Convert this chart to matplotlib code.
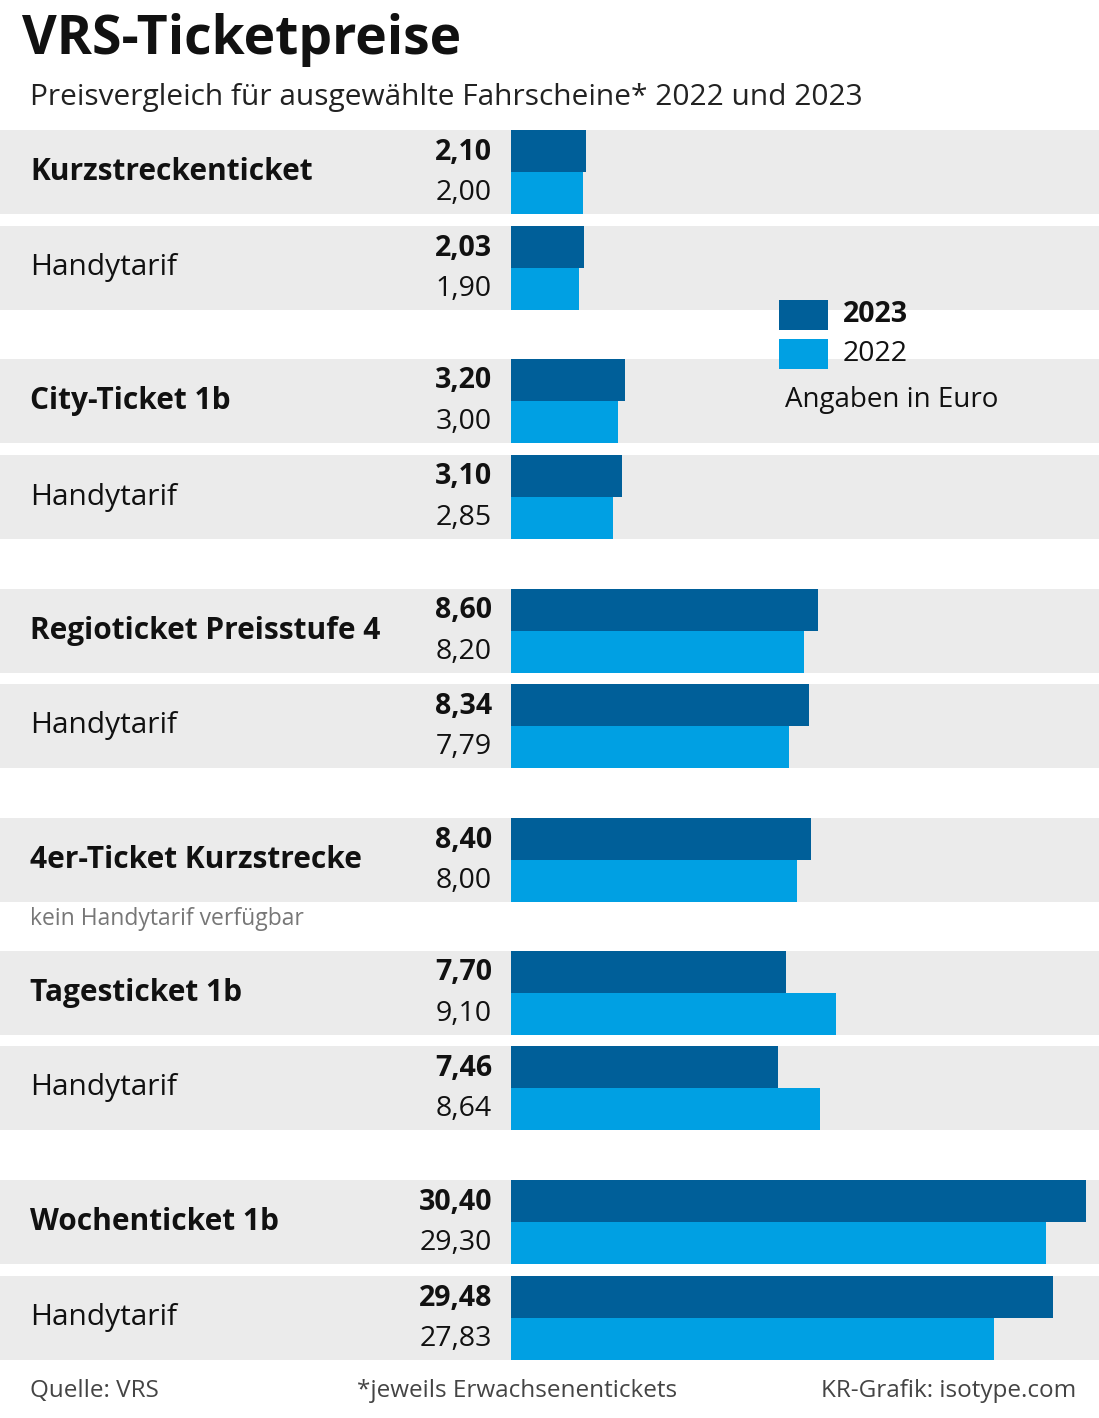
import matplotlib
matplotlib.use("Agg")
import matplotlib.pyplot as plt

plt.rcParams['font.family'] = ['Open Sans', 'DejaVu Sans']

labels = ["Kurzstreckenticket", "Handytarif", "City-Ticket 1b", "Handytarif",
          "Regioticket Preisstufe 4", "Handytarif", "4er-Ticket Kurzstrecke",
          "Tagesticket 1b", "Handytarif", "Wochenticket 1b", "Handytarif"]
bold = [True, False, True, False, True, False, True, True, False, True, False]
v2023 = [2.10, 2.03, 3.20, 3.10, 8.60, 8.34, 8.40, 7.70, 7.46, 30.40, 29.48]
v2022 = [2.00, 1.90, 3.00, 2.85, 8.20, 7.79, 8.00, 9.10, 8.64, 29.30, 27.83]
# the original graphic truncates the long Wochenticket bars (broken scale)
scale_offset = [0, 0, 0, 0, 0, 0, 0, 0, 0, 14.33, 14.33]
row_top = [130, 226, 359, 455, 589, 684, 818, 951, 1046, 1180, 1276]

W, H = 1099, 1418
PX = 35.75  # pixels per euro
fig = plt.figure(figsize=(W/100, H/100), dpi=100)
ax = fig.add_axes([0, 0, 1, 1])
ax.set_xlim(-511/PX, (W-511)/PX)
ax.set_ylim(H, 0)
ax.axis('off')

def fx(px):
    return (px-511)/PX

dark, light, grey = "#005f99", "#00a0e3", "#ebebeb"
for i, lab in enumerate(labels):
    t = row_top[i]
    ax.axhspan(t, t+84, color=grey, zorder=0, lw=0)
    ax.barh(t+21, v2023[i]-scale_offset[i], height=42, left=0, color=dark, zorder=2)
    ax.barh(t+63, v2022[i]-scale_offset[i], height=42, left=0, color=light, zorder=2)
    ax.text(fx(492), t+22, f"{v2023[i]:.2f}".replace('.', ','), ha='right', va='center',
            fontsize=20.5, fontweight='bold', color='#111')
    ax.text(fx(492), t+63, f"{v2022[i]:.2f}".replace('.', ','), ha='right', va='center',
            fontsize=20.5, color='#111')
    ax.text(fx(30), t+42, lab, ha='left', va='center', fontsize=21.5,
            fontweight='bold' if bold[i] else 'normal', color='#111')

ax.text(fx(30), 919, "kein Handytarif verfügbar", ha='left', va='center', fontsize=16.5, color='#777')

ax.text(fx(22), 40, "VRS-Ticketpreise", ha='left', va='center', fontsize=38.5, fontweight='bold', color='#111')
ax.text(fx(30), 97, "Preisvergleich für ausgewählte Fahrscheine* 2022 und 2023", ha='left', va='center',
        fontsize=21.5, color='#222')

# legend
ax.barh(315, fx(828)-fx(779), left=fx(779), height=30, color=dark)
ax.barh(354, fx(828)-fx(779), left=fx(779), height=30, color=light)
ax.text(fx(843), 315, "2023", ha='left', va='center', fontsize=20.5, fontweight='bold', color='#111')
ax.text(fx(843), 354, "2022", ha='left', va='center', fontsize=20.5, color='#111')
ax.text(fx(785), 400, "Angaben in Euro", ha='left', va='center', fontsize=20, color='#111')

ax.text(fx(30), 1391, "Quelle: VRS", ha='left', va='center', fontsize=17.5, color='#444')
ax.text(fx(517), 1391, "*jeweils Erwachsenentickets", ha='center', va='center', fontsize=17.5, color='#444')
ax.text(fx(1076), 1391, "KR-Grafik: isotype.com", ha='right', va='center', fontsize=17.5, color='#444')

fig.savefig("out.png", dpi=100, facecolor='white')
